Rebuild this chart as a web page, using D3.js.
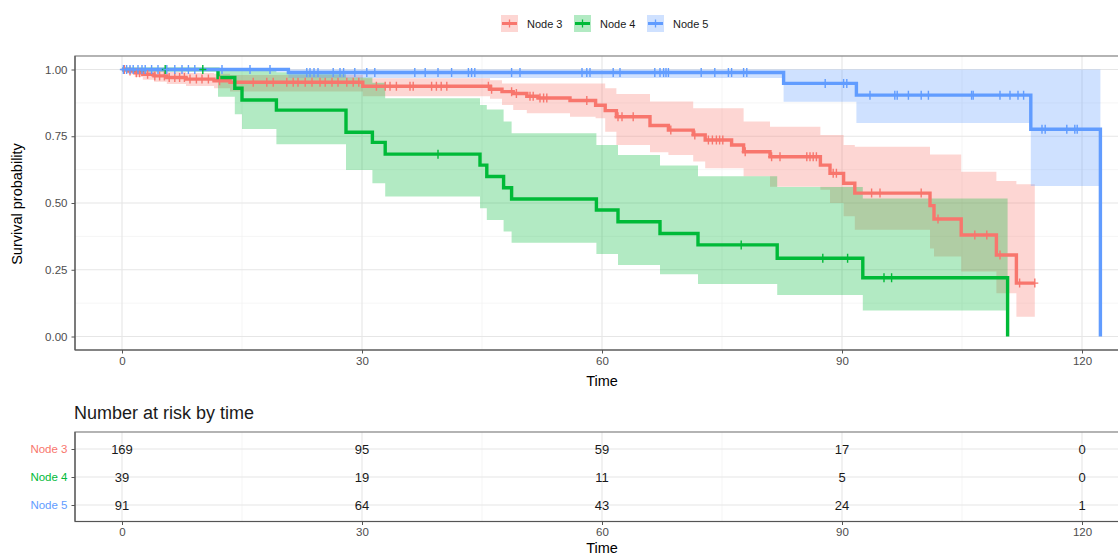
<!DOCTYPE html>
<html>
<head>
<meta charset="utf-8">
<script src="https://cdn.jsdelivr.net/npm/d3@7"></script>
<style>
  body { margin: 0; background: #fff; }
  svg { display: block; font-family: "Liberation Sans", Arial, sans-serif; }
</style>
</head>
<body>
<svg id="chart" width="1118" height="555"></svg>
<script>
// ---- strata ----
const groups = ["Node 3", "Node 4", "Node 5"];
const colors = ["#F8766D", "#00BA38", "#619CFF"];

// ---- Node 3: step times, Kaplan-Meier estimate, 95% band ----
const node3Time  = [0, 0.8, 1.6, 2.6, 4.0, 5.6, 8.0, 11.5, 13.5, 30.1, 46.0, 47.5, 48.9, 50.6, 52.0, 56.0, 59.2, 60.4, 61.8, 66.0, 68.3, 71.4, 72.9, 76.2, 77.7, 81.0, 87.3, 88.5, 90.2, 91.6, 101.0, 101.5, 104.9, 109.3, 111.8];
const node3Surv  = [1, .994, .988, .982, .976, .970, .964, .958, .952, .937, .926, .917, .910, .900, .893, .884, .866, .846, .823, .790, .773, .755, .736, .717, .692, .673, .642, .611, .574, .537, .490, .440, .380, .305, .200];
const node3Upper = [1, 1, 1, .997, .994, .991, .987, .984, .979, .967, .960, .948, .948, .948, .948, .948, .948, .930, .908, .880, .880, .855, .855, .855, .805, .786, .755, .755, .717, .711, .682, .682, .617, .582, .570];
const node3Lower = [1, .982, .972, .962, .954, .946, .938, .930, .918, .900, .890, .867, .848, .836, .836, .823, .817, .767, .717, .690, .680, .655, .630, .630, .600, .561, .550, .500, .450, .400, .330, .300, .243, .162, .074];
const node3Censor = [0.3, 1.0, 1.8, 2.2, 3.2, 4.1, 4.7, 5.3, 5.9, 6.6, 7.2, 7.8, 8.5, 9.3, 10.0, 10.8, 12.2, 16.4, 18.1, 18.9, 20.6, 21.4, 22.0, 22.9, 23.75, 24.75, 25.4, 26.25, 27.0, 28.1, 28.9, 29.6, 31.8, 32.9, 33.5, 34.3, 36.0, 36.4, 38.7, 39.3, 39.9, 40.6, 45.8, 46.2, 48.7, 49.3, 51.0, 51.4, 52.25, 52.7, 53.1, 58.1, 62.0, 62.5, 63.9, 68.6, 71.6, 73.3, 73.8, 74.3, 74.7, 75.1, 77.9, 81.2, 82.25, 85.6, 86.0, 86.4, 86.8, 88.9, 89.3, 93.7, 94.75, 99.9, 102.0, 106.6, 108.1, 109.75, 112.2, 114.1];

// ---- Node 4 ----
const node4Time  = [0, 12.0, 14.1, 15.0, 19.3, 28.0, 31.3, 32.9, 44.75, 45.6, 47.7, 48.7, 59.3, 62.0, 67.25, 72.0, 81.9, 92.6];
const node4Surv  = [1, .970, .930, .886, .848, .765, .727, .683, .642, .599, .557, .515, .474, .430, .386, .343, .293, .220];
const node4Upper = [1, 1, 1, 1, .990, .970, .950, .892, .867, .850, .805, .761, .717, .680, .640, .600, .560, .517];
const node4Lower = [1, .898, .832, .777, .720, .624, .574, .524, .480, .436, .393, .351, .309, .268, .233, .197, .155, .097];
const node4Censor = [5.4, 10.1, 39.5, 77.4, 87.6, 90.7, 95.25, 96.2];

// ---- Node 5 ----
const node5Time  = [0, 20.8, 82.7, 91.8, 113.6];
const node5Surv  = [1, .989, .948, .904, .776];
const node5Upper = [1, 1, 1, 1, 1];
const node5Lower = [1, .968, .879, .800, .564];
const node5Censor = [0.17, 0.58, 1.0, 1.4, 2.0, 2.5, 2.9, 3.7, 4.5, 5.6, 6.6, 7.5, 8.3, 9.1, 12.5, 16.0, 18.5, 23.1, 23.5, 24.0, 24.5, 26.4, 27.25, 27.7, 29.1, 30.6, 31.6, 36.6, 37.9, 39.5, 41.2, 43.3, 43.7, 44.1, 48.7, 49.75, 57.5, 58.1, 58.5, 61.4, 62.25, 66.6, 67.25, 67.7, 68.0, 68.3, 72.4, 74.1, 75.8, 76.2, 77.7, 78.1, 87.9, 90.2, 90.6, 93.5, 96.6, 96.9, 98.3, 99.9, 100.8, 106.2, 106.4, 109.75, 111.0, 112.0, 112.7, 115.0, 115.4, 118.1, 119.1, 119.4];

// last follow-up time of each stratum and the estimate reached there
const lastTime = [114.1, 110.7, 122.3];
const lastSurv = [0.200, 0, 0];

// ---- number at risk ----
const riskTimes = [0, 30, 60, 90, 120];
const node3Risk = [169, 95, 59, 17, 0];
const node4Risk = [39, 19, 11, 5, 0];
const node5Risk = [91, 64, 43, 24, 1];

// ---- axes ----
const xTicks = [0, 30, 60, 90, 120];
const xMinor = [15, 45, 75, 105];
const yTicks = [0, 0.25, 0.5, 0.75, 1];
const yMinor = [0.125, 0.375, 0.625, 0.875];

const series = [
  { time: node3Time, surv: node3Surv, upper: node3Upper, lower: node3Lower, censor: node3Censor, risk: node3Risk },
  { time: node4Time, surv: node4Surv, upper: node4Upper, lower: node4Lower, censor: node4Censor, risk: node4Risk },
  { time: node5Time, surv: node5Surv, upper: node5Upper, lower: node5Lower, censor: node5Censor, risk: node5Risk }
].map((s, i) => Object.assign(s, { name: groups[i], color: colors[i], end: lastTime[i], endSurv: lastSurv[i] }));

const svg = d3.select("#chart");
const tickFont = "11.5px";

// ---------- survival panel ----------
const panel = { left: 75, right: 1130, top: 56, bottom: 350 };
const x = d3.scaleLinear().domain([0, 120]).range([122, 1082]);
const y = d3.scaleLinear().domain([0, 1]).range([336.5, 69.5]);

svg.append("defs").append("clipPath").attr("id", "panelClip")
  .append("rect").attr("x", panel.left).attr("y", panel.top)
  .attr("width", panel.right - panel.left).attr("height", panel.bottom - panel.top);

const grid = svg.append("g");
grid.selectAll(".vmin").data(xMinor).join("line")
  .attr("x1", d => x(d)).attr("x2", d => x(d)).attr("y1", panel.top).attr("y2", panel.bottom)
  .attr("stroke", "#f0f0f0").attr("stroke-width", 0.7);
grid.selectAll(".hmin").data(yMinor).join("line")
  .attr("y1", d => y(d)).attr("y2", d => y(d)).attr("x1", panel.left).attr("x2", panel.right)
  .attr("stroke", "#f0f0f0").attr("stroke-width", 0.7);
grid.selectAll(".vmaj").data(xTicks).join("line")
  .attr("x1", d => x(d)).attr("x2", d => x(d)).attr("y1", panel.top).attr("y2", panel.bottom)
  .attr("stroke", "#e6e6e6").attr("stroke-width", 1.1);
grid.selectAll(".hmaj").data(yTicks).join("line")
  .attr("y1", d => y(d)).attr("y2", d => y(d)).attr("x1", panel.left).attr("x2", panel.right)
  .attr("stroke", "#e6e6e6").attr("stroke-width", 1.1);

const plot = svg.append("g").attr("clip-path", "url(#panelClip)");

const area = d3.area().curve(d3.curveStepAfter)
  .x(d => x(d.t)).y0(d => y(d.lo)).y1(d => y(d.hi));
const line = d3.line().curve(d3.curveStepAfter)
  .x(d => x(d.t)).y(d => y(d.s));

// confidence bands first, so the curves sit on top of every band
series.forEach(s => {
  const band = s.time.map((t, i) => ({ t, hi: s.upper[i], lo: s.lower[i] }));
  const n = s.time.length - 1;
  band.push({ t: s.end, hi: s.upper[n], lo: s.lower[n] });
  plot.append("path").attr("d", area(band))
    .attr("fill", s.color).attr("fill-opacity", 0.3);
});

series.forEach(s => {
  const pts = s.time.map((t, i) => ({ t, s: s.surv[i] }));
  pts.push({ t: s.end, s: s.endSurv });
  plot.append("path").attr("d", line(pts))
    .attr("fill", "none").attr("stroke", s.color).attr("stroke-width", 3.4)
    .attr("stroke-linejoin", "miter");
});

function survAt(s, t) {
  const i = d3.bisectRight(s.time, t) - 1;
  return s.surv[Math.max(0, i)];
}
// censoring marks
series.forEach(s => {
  plot.append("g").selectAll("path").data(s.censor).join("path")
    .attr("d", t => {
      const cx = x(t), cy = y(survAt(s, t));
      return `M${cx},${cy - 4.5}V${cy + 4.5}M${cx - 3.5},${cy}H${cx + 3.5}`;
    })
    .attr("stroke", s.color).attr("stroke-width", 1.4).attr("fill", "none");
});

// border and axis lines
svg.append("rect").attr("x", panel.left).attr("y", panel.top)
  .attr("width", panel.right - panel.left).attr("height", panel.bottom - panel.top)
  .attr("fill", "none").attr("stroke", "#8c8c8c").attr("stroke-width", 1.3);
svg.append("line").attr("x1", panel.left).attr("x2", panel.right)
  .attr("y1", panel.bottom).attr("y2", panel.bottom).attr("stroke", "#555").attr("stroke-width", 1.2);
svg.append("line").attr("x1", panel.left).attr("x2", panel.left)
  .attr("y1", panel.top).attr("y2", panel.bottom).attr("stroke", "#555").attr("stroke-width", 1.2);

function styleAxis(g) {
  g.select(".domain").remove();
  g.selectAll("line").attr("stroke", "#555");
  g.selectAll("text").attr("fill", "#4d4d4d").style("font-size", tickFont)
    .style("font-family", "Liberation Sans, Arial, sans-serif");
}

svg.append("g").attr("transform", `translate(0,${panel.bottom})`)
  .call(d3.axisBottom(x).tickValues(xTicks).tickSize(3.5).tickPadding(3).tickFormat(d3.format("d")))
  .call(styleAxis);

svg.append("g").attr("transform", `translate(${panel.left},0)`)
  .call(d3.axisLeft(y).tickValues(yTicks).tickSize(3.5).tickPadding(4).tickFormat(d3.format(".2f")))
  .call(styleAxis);

svg.append("text").attr("x", 602).attr("y", 386).attr("text-anchor", "middle")
  .style("font-size", "14.5px").attr("fill", "#000").text("Time");
svg.append("text").attr("transform", "translate(22,204) rotate(-90)").attr("text-anchor", "middle")
  .style("font-size", "14.5px").attr("fill", "#000").text("Survival probability");

// ---------- legend ----------
const legendX = [501, 574, 647];
const legend = svg.append("g");
series.forEach((s, i) => {
  const g = legend.append("g").attr("transform", `translate(${legendX[i]},15)`);
  g.append("rect").attr("width", 17).attr("height", 17).attr("fill", s.color).attr("fill-opacity", 0.3);
  g.append("line").attr("x1", 1).attr("x2", 16).attr("y1", 8.5).attr("y2", 8.5)
    .attr("stroke", s.color).attr("stroke-width", 3);
  g.append("line").attr("x1", 8.5).attr("x2", 8.5).attr("y1", 4.5).attr("y2", 12.5)
    .attr("stroke", s.color).attr("stroke-width", 1.3);
  g.append("text").attr("x", 26).attr("y", 12.5).style("font-size", "11px").attr("fill", "#1a1a1a").text(s.name);
});

// ---------- risk table ----------
svg.append("text").attr("x", 74).attr("y", 419).style("font-size", "18px").attr("fill", "#1a1a1a")
  .text("Number at risk by time");

const table = { left: 75, right: 1130, top: 432, bottom: 521.5 };
const ty = d3.scalePoint().domain(groups).range([449, 505]);

const tg = svg.append("g");
tg.selectAll(".tvmin").data(xMinor).join("line")
  .attr("x1", d => x(d)).attr("x2", d => x(d)).attr("y1", table.top).attr("y2", table.bottom)
  .attr("stroke", "#f0f0f0").attr("stroke-width", 0.7);
tg.selectAll(".tvmaj").data(xTicks).join("line")
  .attr("x1", d => x(d)).attr("x2", d => x(d)).attr("y1", table.top).attr("y2", table.bottom)
  .attr("stroke", "#e6e6e6").attr("stroke-width", 1.1);
tg.selectAll(".thmaj").data(groups).join("line")
  .attr("y1", d => ty(d)).attr("y2", d => ty(d)).attr("x1", table.left).attr("x2", table.right)
  .attr("stroke", "#e6e6e6").attr("stroke-width", 1.1);

series.forEach(s => {
  tg.append("g").selectAll("text").data(riskTimes).join("text")
    .attr("x", d => x(d)).attr("y", ty(s.name) + 4.6).attr("text-anchor", "middle")
    .style("font-size", "13px").attr("fill", "#1a1a1a")
    .text((d, i) => s.risk[i]);
});

svg.append("rect").attr("x", table.left).attr("y", table.top)
  .attr("width", table.right - table.left).attr("height", table.bottom - table.top)
  .attr("fill", "none").attr("stroke", "#8c8c8c").attr("stroke-width", 1.3);
svg.append("line").attr("x1", table.left).attr("x2", table.right)
  .attr("y1", table.bottom).attr("y2", table.bottom).attr("stroke", "#555").attr("stroke-width", 1.2);
svg.append("line").attr("x1", table.left).attr("x2", table.left)
  .attr("y1", table.top).attr("y2", table.bottom).attr("stroke", "#555").attr("stroke-width", 1.2);

svg.append("g").attr("transform", `translate(0,${table.bottom})`)
  .call(d3.axisBottom(x).tickValues(xTicks).tickSize(3.5).tickPadding(3).tickFormat(d3.format("d")))
  .call(styleAxis);

const tyAxis = svg.append("g").attr("transform", `translate(${table.left},0)`)
  .call(d3.axisLeft(ty).tickSize(3.5).tickPadding(4))
  .call(styleAxis);
tyAxis.selectAll("text").attr("fill", (d, i) => colors[i]);

svg.append("text").attr("x", 602).attr("y", 553).attr("text-anchor", "middle")
  .style("font-size", "14.5px").attr("fill", "#000").text("Time");
</script>
</body>
</html>
